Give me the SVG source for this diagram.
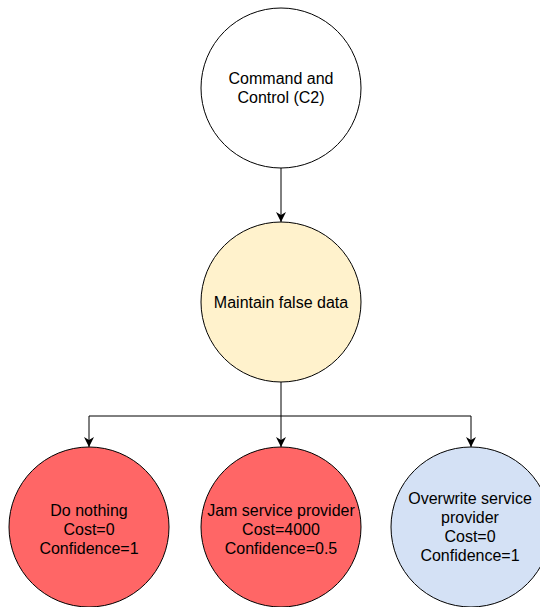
<svg xmlns="http://www.w3.org/2000/svg" width="540" height="607" viewBox="0 0 540 607">
  <style>
    .node { stroke: #000000; stroke-width: 1; }
    .label { font-family: "Liberation Sans", Arial, sans-serif; font-size: 16px; fill: #000000; text-anchor: middle; }
    .edge { fill: none; stroke: #000000; stroke-width: 1; }
  </style>
  <defs>
    <marker id="arrow" viewBox="0 0 10 10" refX="10" refY="5" markerWidth="10" markerHeight="10" markerUnits="userSpaceOnUse" orient="auto">
      <path d="M0,0 L10,5 L0,10 L3,5 Z" fill="#000000"/>
    </marker>
  </defs>
  <rect width="540" height="607" fill="#ffffff"/>

  <g id="connectors">
    <path class="edge" d="M281,168 L281,222" marker-end="url(#arrow)"/>
    <path class="edge" d="M281,382 L281,447" marker-end="url(#arrow)"/>
    <path class="edge" d="M281,416 L89,416 L89,447" marker-end="url(#arrow)"/>
    <path class="edge" d="M281,416 L471,416 L471,447" marker-end="url(#arrow)"/>
  </g>

  <g id="c2">
    <circle class="node" cx="281" cy="88" r="80" fill="#ffffff"/>
    <text class="label" x="281" y="84">Command and</text>
    <text class="label" x="281" y="103">Control (C2)</text>
  </g>

  <g id="maintain-false-data">
    <circle class="node" cx="281" cy="302" r="80" fill="#fff2cc"/>
    <text class="label" x="281" y="308">Maintain false data</text>
  </g>

  <g id="do-nothing">
    <circle class="node" cx="89" cy="527" r="80" fill="#ff6666"/>
    <text class="label" x="89" y="516">Do nothing</text>
    <text class="label" x="89" y="535">Cost=0</text>
    <text class="label" x="89" y="554">Confidence=1</text>
  </g>

  <g id="jam-service-provider">
    <circle class="node" cx="281" cy="527" r="80" fill="#ff6666"/>
    <text class="label" x="281" y="516">Jam service provider</text>
    <text class="label" x="281" y="535">Cost=4000</text>
    <text class="label" x="281" y="554">Confidence=0.5</text>
  </g>

  <g id="overwrite-service-provider">
    <circle class="node" cx="471" cy="527" r="80" fill="#d4e1f5"/>
    <text class="label" x="470" y="504">Overwrite service</text>
    <text class="label" x="470" y="523">provider</text>
    <text class="label" x="470" y="542">Cost=0</text>
    <text class="label" x="470" y="561">Confidence=1</text>
  </g>
</svg>
